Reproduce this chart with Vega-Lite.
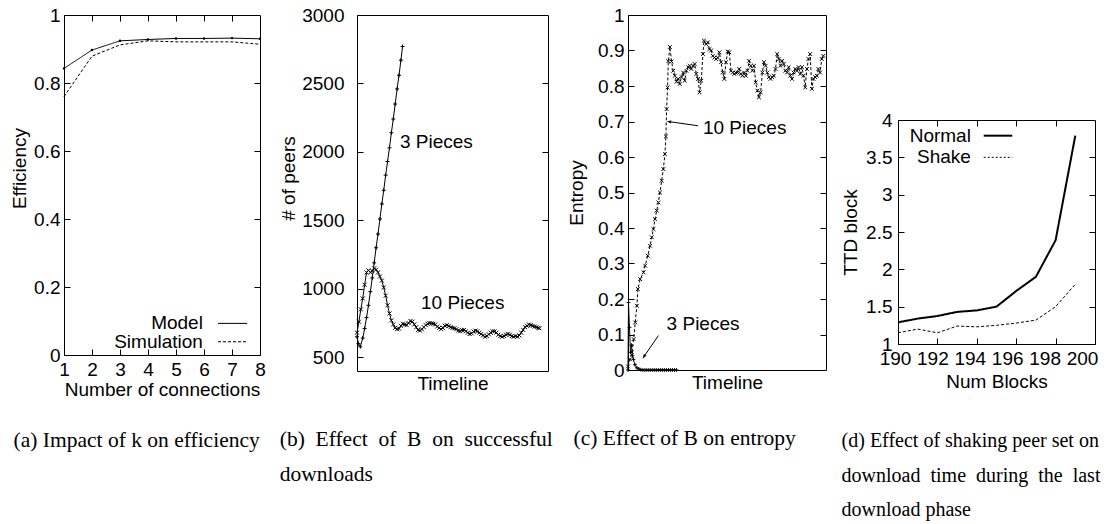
{
  "$schema": "https://vega.github.io/schema/vega-lite/v6.json",
  "background": "white",
  "padding": {"left": 10, "top": 5, "right": 5, "bottom": 5},
  "spacing": 13,
  "config": {
    "font": "Liberation Sans",
    "view": {"stroke": "black", "strokeWidth": 1},
    "axis": {"domain": false, "grid": false, "labelFont": "Liberation Sans", "labelFontSize": 19, "labelColor": "black", "titleFont": "Liberation Sans", "titleFontSize": 19, "titleFontWeight": "normal", "titleColor": "black", "tickColor": "black", "tickSize": -6, "tickWidth": 1, "labelPadding": 10, "labelOverlap": false, "labelFlush": false, "titlePadding": 2},
    "axisX": {"labelPadding": 11},
    "title": {"font": "Liberation Serif", "fontSize": 21.5, "fontWeight": "normal", "color": "black", "orient": "bottom", "anchor": "start", "frame": "bounds", "lineHeight": 34.5},
    "text": {"font": "Liberation Sans", "fontSize": 19, "color": "black"}
  },
  "datasets": {
    "eff": [
      {"series": "Model", "k": 1, "efficiency": 0.843},
      {"series": "Model", "k": 2, "efficiency": 0.897},
      {"series": "Model", "k": 3, "efficiency": 0.924},
      {"series": "Model", "k": 4, "efficiency": 0.928},
      {"series": "Model", "k": 5, "efficiency": 0.931},
      {"series": "Model", "k": 6, "efficiency": 0.931},
      {"series": "Model", "k": 7, "efficiency": 0.932},
      {"series": "Model", "k": 8, "efficiency": 0.930},
      {"series": "Simulation", "k": 1, "efficiency": 0.760},
      {"series": "Simulation", "k": 2, "efficiency": 0.879},
      {"series": "Simulation", "k": 3, "efficiency": 0.912},
      {"series": "Simulation", "k": 4, "efficiency": 0.924},
      {"series": "Simulation", "k": 5, "efficiency": 0.921},
      {"series": "Simulation", "k": 6, "efficiency": 0.921},
      {"series": "Simulation", "k": 7, "efficiency": 0.921},
      {"series": "Simulation", "k": 8, "efficiency": 0.914}
    ],
    "peers": [
      {"series": "3 Pieces", "t": 0, "peers": 650},
      {"series": "3 Pieces", "t": 1.5, "peers": 600},
      {"series": "3 Pieces", "t": 3.5, "peers": 577},
      {"series": "3 Pieces", "t": 6, "peers": 640},
      {"series": "3 Pieces", "t": 8, "peers": 710},
      {"series": "3 Pieces", "t": 10, "peers": 790},
      {"series": "3 Pieces", "t": 12, "peers": 880},
      {"series": "3 Pieces", "t": 14, "peers": 980},
      {"series": "3 Pieces", "t": 16, "peers": 1080},
      {"series": "3 Pieces", "t": 18, "peers": 1190},
      {"series": "3 Pieces", "t": 20, "peers": 1300},
      {"series": "3 Pieces", "t": 22, "peers": 1400},
      {"series": "3 Pieces", "t": 24, "peers": 1510},
      {"series": "3 Pieces", "t": 26, "peers": 1620},
      {"series": "3 Pieces", "t": 28, "peers": 1720},
      {"series": "3 Pieces", "t": 30, "peers": 1830},
      {"series": "3 Pieces", "t": 32, "peers": 1930},
      {"series": "3 Pieces", "t": 34, "peers": 2030},
      {"series": "3 Pieces", "t": 36, "peers": 2140},
      {"series": "3 Pieces", "t": 38, "peers": 2240},
      {"series": "3 Pieces", "t": 40, "peers": 2350},
      {"series": "3 Pieces", "t": 42, "peers": 2460},
      {"series": "3 Pieces", "t": 44, "peers": 2560},
      {"series": "3 Pieces", "t": 46, "peers": 2670},
      {"series": "3 Pieces", "t": 47.7, "peers": 2770},
      {"series": "10 Pieces", "t": 0, "peers": 680},
      {"series": "10 Pieces", "t": 2, "peers": 760},
      {"series": "10 Pieces", "t": 4, "peers": 850},
      {"series": "10 Pieces", "t": 6, "peers": 930},
      {"series": "10 Pieces", "t": 8, "peers": 1030},
      {"series": "10 Pieces", "t": 10, "peers": 1120},
      {"series": "10 Pieces", "t": 12, "peers": 1135},
      {"series": "10 Pieces", "t": 14, "peers": 1120},
      {"series": "10 Pieces", "t": 16, "peers": 1130},
      {"series": "10 Pieces", "t": 18, "peers": 1150},
      {"series": "10 Pieces", "t": 20, "peers": 1140},
      {"series": "10 Pieces", "t": 22, "peers": 1120},
      {"series": "10 Pieces", "t": 24, "peers": 1090},
      {"series": "10 Pieces", "t": 26, "peers": 1060},
      {"series": "10 Pieces", "t": 28, "peers": 1010},
      {"series": "10 Pieces", "t": 30, "peers": 950},
      {"series": "10 Pieces", "t": 32, "peers": 880},
      {"series": "10 Pieces", "t": 34, "peers": 820},
      {"series": "10 Pieces", "t": 36, "peers": 770},
      {"series": "10 Pieces", "t": 38, "peers": 740},
      {"series": "10 Pieces", "t": 40, "peers": 715},
      {"series": "10 Pieces", "t": 42, "peers": 705},
      {"series": "10 Pieces", "t": 44, "peers": 710},
      {"series": "10 Pieces", "t": 46, "peers": 730},
      {"series": "10 Pieces", "t": 48, "peers": 745},
      {"series": "10 Pieces", "t": 50, "peers": 740},
      {"series": "10 Pieces", "t": 52, "peers": 735},
      {"series": "10 Pieces", "t": 54, "peers": 750},
      {"series": "10 Pieces", "t": 56, "peers": 765},
      {"series": "10 Pieces", "t": 58, "peers": 760},
      {"series": "10 Pieces", "t": 60, "peers": 740},
      {"series": "10 Pieces", "t": 62, "peers": 720},
      {"series": "10 Pieces", "t": 64, "peers": 700},
      {"series": "10 Pieces", "t": 66, "peers": 695},
      {"series": "10 Pieces", "t": 68, "peers": 705},
      {"series": "10 Pieces", "t": 70, "peers": 720},
      {"series": "10 Pieces", "t": 72, "peers": 735},
      {"series": "10 Pieces", "t": 74, "peers": 745},
      {"series": "10 Pieces", "t": 76, "peers": 750},
      {"series": "10 Pieces", "t": 78, "peers": 748},
      {"series": "10 Pieces", "t": 80, "peers": 745},
      {"series": "10 Pieces", "t": 82, "peers": 740},
      {"series": "10 Pieces", "t": 84, "peers": 725},
      {"series": "10 Pieces", "t": 86, "peers": 715},
      {"series": "10 Pieces", "t": 88, "peers": 705},
      {"series": "10 Pieces", "t": 90, "peers": 715},
      {"series": "10 Pieces", "t": 92, "peers": 730},
      {"series": "10 Pieces", "t": 94, "peers": 735},
      {"series": "10 Pieces", "t": 96, "peers": 728},
      {"series": "10 Pieces", "t": 98, "peers": 720},
      {"series": "10 Pieces", "t": 100, "peers": 715},
      {"series": "10 Pieces", "t": 102, "peers": 712},
      {"series": "10 Pieces", "t": 104, "peers": 705},
      {"series": "10 Pieces", "t": 106, "peers": 695},
      {"series": "10 Pieces", "t": 108, "peers": 690},
      {"series": "10 Pieces", "t": 110, "peers": 698},
      {"series": "10 Pieces", "t": 112, "peers": 700},
      {"series": "10 Pieces", "t": 114, "peers": 690},
      {"series": "10 Pieces", "t": 116, "peers": 680},
      {"series": "10 Pieces", "t": 118, "peers": 670},
      {"series": "10 Pieces", "t": 120, "peers": 675},
      {"series": "10 Pieces", "t": 122, "peers": 688},
      {"series": "10 Pieces", "t": 124, "peers": 695},
      {"series": "10 Pieces", "t": 126, "peers": 690},
      {"series": "10 Pieces", "t": 128, "peers": 680},
      {"series": "10 Pieces", "t": 130, "peers": 670},
      {"series": "10 Pieces", "t": 132, "peers": 660},
      {"series": "10 Pieces", "t": 134, "peers": 650},
      {"series": "10 Pieces", "t": 136, "peers": 655},
      {"series": "10 Pieces", "t": 138, "peers": 668},
      {"series": "10 Pieces", "t": 140, "peers": 680},
      {"series": "10 Pieces", "t": 142, "peers": 690},
      {"series": "10 Pieces", "t": 144, "peers": 690},
      {"series": "10 Pieces", "t": 146, "peers": 680},
      {"series": "10 Pieces", "t": 148, "peers": 665},
      {"series": "10 Pieces", "t": 150, "peers": 655},
      {"series": "10 Pieces", "t": 152, "peers": 650},
      {"series": "10 Pieces", "t": 154, "peers": 655},
      {"series": "10 Pieces", "t": 156, "peers": 665},
      {"series": "10 Pieces", "t": 158, "peers": 672},
      {"series": "10 Pieces", "t": 160, "peers": 665},
      {"series": "10 Pieces", "t": 162, "peers": 655},
      {"series": "10 Pieces", "t": 164, "peers": 650},
      {"series": "10 Pieces", "t": 166, "peers": 655},
      {"series": "10 Pieces", "t": 168, "peers": 650},
      {"series": "10 Pieces", "t": 170, "peers": 660},
      {"series": "10 Pieces", "t": 172, "peers": 680},
      {"series": "10 Pieces", "t": 174, "peers": 700},
      {"series": "10 Pieces", "t": 176, "peers": 720},
      {"series": "10 Pieces", "t": 178, "peers": 730},
      {"series": "10 Pieces", "t": 180, "peers": 740},
      {"series": "10 Pieces", "t": 182, "peers": 735},
      {"series": "10 Pieces", "t": 184, "peers": 730},
      {"series": "10 Pieces", "t": 186, "peers": 725},
      {"series": "10 Pieces", "t": 188, "peers": 720},
      {"series": "10 Pieces", "t": 190, "peers": 715},
      {"series": "10 Pieces", "t": 191, "peers": 712}
    ],
    "entropy": [
      {"series": "3 Pieces", "t": 0, "entropy": 0.0},
      {"series": "3 Pieces", "t": 0.5, "entropy": 0.19},
      {"series": "3 Pieces", "t": 1.5, "entropy": 0.12},
      {"series": "3 Pieces", "t": 2.5, "entropy": 0.05},
      {"series": "3 Pieces", "t": 3.5, "entropy": 0.07},
      {"series": "3 Pieces", "t": 4.5, "entropy": 0.04},
      {"series": "3 Pieces", "t": 5.5, "entropy": 0.03},
      {"series": "3 Pieces", "t": 7, "entropy": 0.015},
      {"series": "3 Pieces", "t": 9, "entropy": 0.006},
      {"series": "3 Pieces", "t": 11, "entropy": 0.003},
      {"series": "3 Pieces", "t": 13, "entropy": 0.001},
      {"series": "3 Pieces", "t": 15, "entropy": 0},
      {"series": "3 Pieces", "t": 17, "entropy": 0},
      {"series": "3 Pieces", "t": 19, "entropy": 0},
      {"series": "3 Pieces", "t": 21, "entropy": 0},
      {"series": "3 Pieces", "t": 23, "entropy": 0},
      {"series": "3 Pieces", "t": 25, "entropy": 0},
      {"series": "3 Pieces", "t": 27, "entropy": 0},
      {"series": "3 Pieces", "t": 29, "entropy": 0},
      {"series": "3 Pieces", "t": 31, "entropy": 0},
      {"series": "3 Pieces", "t": 33, "entropy": 0},
      {"series": "3 Pieces", "t": 35, "entropy": 0},
      {"series": "3 Pieces", "t": 37, "entropy": 0},
      {"series": "3 Pieces", "t": 39, "entropy": 0},
      {"series": "3 Pieces", "t": 41, "entropy": 0},
      {"series": "3 Pieces", "t": 43, "entropy": 0},
      {"series": "3 Pieces", "t": 45, "entropy": 0},
      {"series": "3 Pieces", "t": 47, "entropy": 0},
      {"series": "3 Pieces", "t": 49, "entropy": 0},
      {"series": "10 Pieces", "t": 0, "entropy": 0.01},
      {"series": "10 Pieces", "t": 2, "entropy": 0.03},
      {"series": "10 Pieces", "t": 4, "entropy": 0.05},
      {"series": "10 Pieces", "t": 5.7, "entropy": 0.087},
      {"series": "10 Pieces", "t": 7.3, "entropy": 0.134},
      {"series": "10 Pieces", "t": 9, "entropy": 0.181},
      {"series": "10 Pieces", "t": 10, "entropy": 0.228},
      {"series": "10 Pieces", "t": 12.3, "entropy": 0.256},
      {"series": "10 Pieces", "t": 15.7, "entropy": 0.275},
      {"series": "10 Pieces", "t": 17.3, "entropy": 0.294},
      {"series": "10 Pieces", "t": 20, "entropy": 0.322},
      {"series": "10 Pieces", "t": 22.3, "entropy": 0.35},
      {"series": "10 Pieces", "t": 24, "entropy": 0.374},
      {"series": "10 Pieces", "t": 25.7, "entropy": 0.397},
      {"series": "10 Pieces", "t": 27.3, "entropy": 0.425},
      {"series": "10 Pieces", "t": 29, "entropy": 0.449},
      {"series": "10 Pieces", "t": 30.7, "entropy": 0.472},
      {"series": "10 Pieces", "t": 32.3, "entropy": 0.5},
      {"series": "10 Pieces", "t": 34, "entropy": 0.533},
      {"series": "10 Pieces", "t": 35.7, "entropy": 0.566},
      {"series": "10 Pieces", "t": 37.3, "entropy": 0.608},
      {"series": "10 Pieces", "t": 38.3, "entropy": 0.658},
      {"series": "10 Pieces", "t": 39, "entropy": 0.735},
      {"series": "10 Pieces", "t": 40, "entropy": 0.796},
      {"series": "10 Pieces", "t": 40.7, "entropy": 0.87},
      {"series": "10 Pieces", "t": 42.3, "entropy": 0.91},
      {"series": "10 Pieces", "t": 44, "entropy": 0.869},
      {"series": "10 Pieces", "t": 45.7, "entropy": 0.843},
      {"series": "10 Pieces", "t": 47.3, "entropy": 0.829},
      {"series": "10 Pieces", "t": 49, "entropy": 0.812},
      {"series": "10 Pieces", "t": 50.7, "entropy": 0.82},
      {"series": "10 Pieces", "t": 52.3, "entropy": 0.806},
      {"series": "10 Pieces", "t": 54, "entropy": 0.825},
      {"series": "10 Pieces", "t": 55.7, "entropy": 0.838},
      {"series": "10 Pieces", "t": 57.3, "entropy": 0.815},
      {"series": "10 Pieces", "t": 59, "entropy": 0.843},
      {"series": "10 Pieces", "t": 60.7, "entropy": 0.853},
      {"series": "10 Pieces", "t": 62.3, "entropy": 0.857},
      {"series": "10 Pieces", "t": 64, "entropy": 0.848},
      {"series": "10 Pieces", "t": 65.7, "entropy": 0.857},
      {"series": "10 Pieces", "t": 67.3, "entropy": 0.862},
      {"series": "10 Pieces", "t": 69, "entropy": 0.834},
      {"series": "10 Pieces", "t": 70.7, "entropy": 0.82},
      {"series": "10 Pieces", "t": 72.3, "entropy": 0.782},
      {"series": "10 Pieces", "t": 74, "entropy": 0.815},
      {"series": "10 Pieces", "t": 75.7, "entropy": 0.89},
      {"series": "10 Pieces", "t": 76.7, "entropy": 0.928},
      {"series": "10 Pieces", "t": 79, "entropy": 0.918},
      {"series": "10 Pieces", "t": 80.7, "entropy": 0.923},
      {"series": "10 Pieces", "t": 82.3, "entropy": 0.904},
      {"series": "10 Pieces", "t": 84, "entropy": 0.9},
      {"series": "10 Pieces", "t": 85.7, "entropy": 0.885},
      {"series": "10 Pieces", "t": 87.3, "entropy": 0.88},
      {"series": "10 Pieces", "t": 89, "entropy": 0.876},
      {"series": "10 Pieces", "t": 90.7, "entropy": 0.88},
      {"series": "10 Pieces", "t": 92.3, "entropy": 0.895},
      {"series": "10 Pieces", "t": 94, "entropy": 0.867},
      {"series": "10 Pieces", "t": 95.7, "entropy": 0.838},
      {"series": "10 Pieces", "t": 97.3, "entropy": 0.82},
      {"series": "10 Pieces", "t": 99, "entropy": 0.867},
      {"series": "10 Pieces", "t": 100.7, "entropy": 0.897},
      {"series": "10 Pieces", "t": 102.3, "entropy": 0.895},
      {"series": "10 Pieces", "t": 104, "entropy": 0.843},
      {"series": "10 Pieces", "t": 105.7, "entropy": 0.838},
      {"series": "10 Pieces", "t": 107.3, "entropy": 0.834},
      {"series": "10 Pieces", "t": 109, "entropy": 0.837},
      {"series": "10 Pieces", "t": 110.7, "entropy": 0.838},
      {"series": "10 Pieces", "t": 112.3, "entropy": 0.848},
      {"series": "10 Pieces", "t": 114, "entropy": 0.834},
      {"series": "10 Pieces", "t": 115.7, "entropy": 0.829},
      {"series": "10 Pieces", "t": 117.3, "entropy": 0.838},
      {"series": "10 Pieces", "t": 119, "entropy": 0.829},
      {"series": "10 Pieces", "t": 120.7, "entropy": 0.843},
      {"series": "10 Pieces", "t": 122.3, "entropy": 0.871},
      {"series": "10 Pieces", "t": 124, "entropy": 0.857},
      {"series": "10 Pieces", "t": 125.7, "entropy": 0.843},
      {"series": "10 Pieces", "t": 127.3, "entropy": 0.857},
      {"series": "10 Pieces", "t": 129, "entropy": 0.81},
      {"series": "10 Pieces", "t": 130.7, "entropy": 0.787},
      {"series": "10 Pieces", "t": 132.3, "entropy": 0.768},
      {"series": "10 Pieces", "t": 134, "entropy": 0.782},
      {"series": "10 Pieces", "t": 135.7, "entropy": 0.838},
      {"series": "10 Pieces", "t": 137.3, "entropy": 0.867},
      {"series": "10 Pieces", "t": 139, "entropy": 0.857},
      {"series": "10 Pieces", "t": 140.7, "entropy": 0.838},
      {"series": "10 Pieces", "t": 142.3, "entropy": 0.825},
      {"series": "10 Pieces", "t": 144, "entropy": 0.82},
      {"series": "10 Pieces", "t": 145.7, "entropy": 0.825},
      {"series": "10 Pieces", "t": 147.3, "entropy": 0.829},
      {"series": "10 Pieces", "t": 149, "entropy": 0.848},
      {"series": "10 Pieces", "t": 150.7, "entropy": 0.89},
      {"series": "10 Pieces", "t": 152.3, "entropy": 0.876},
      {"series": "10 Pieces", "t": 154, "entropy": 0.857},
      {"series": "10 Pieces", "t": 155.7, "entropy": 0.871},
      {"series": "10 Pieces", "t": 157.3, "entropy": 0.862},
      {"series": "10 Pieces", "t": 159, "entropy": 0.843},
      {"series": "10 Pieces", "t": 160.7, "entropy": 0.838},
      {"series": "10 Pieces", "t": 162.3, "entropy": 0.853},
      {"series": "10 Pieces", "t": 164, "entropy": 0.829},
      {"series": "10 Pieces", "t": 165.7, "entropy": 0.82},
      {"series": "10 Pieces", "t": 167.3, "entropy": 0.838},
      {"series": "10 Pieces", "t": 169, "entropy": 0.848},
      {"series": "10 Pieces", "t": 170.7, "entropy": 0.843},
      {"series": "10 Pieces", "t": 172.3, "entropy": 0.853},
      {"series": "10 Pieces", "t": 174, "entropy": 0.834},
      {"series": "10 Pieces", "t": 175.7, "entropy": 0.853},
      {"series": "10 Pieces", "t": 177.3, "entropy": 0.829},
      {"series": "10 Pieces", "t": 179, "entropy": 0.796},
      {"series": "10 Pieces", "t": 180.7, "entropy": 0.848},
      {"series": "10 Pieces", "t": 182.3, "entropy": 0.876},
      {"series": "10 Pieces", "t": 184, "entropy": 0.89},
      {"series": "10 Pieces", "t": 185.7, "entropy": 0.792},
      {"series": "10 Pieces", "t": 187.3, "entropy": 0.82},
      {"series": "10 Pieces", "t": 189, "entropy": 0.825},
      {"series": "10 Pieces", "t": 190.7, "entropy": 0.829},
      {"series": "10 Pieces", "t": 192.3, "entropy": 0.848},
      {"series": "10 Pieces", "t": 194, "entropy": 0.838},
      {"series": "10 Pieces", "t": 195.7, "entropy": 0.876},
      {"series": "10 Pieces", "t": 197.3, "entropy": 0.885}
    ],
    "ttd": [
      {"series": "Normal", "blocks": 190, "ttd": 1.29},
      {"series": "Normal", "blocks": 191, "ttd": 1.34},
      {"series": "Normal", "blocks": 192, "ttd": 1.375},
      {"series": "Normal", "blocks": 193, "ttd": 1.43},
      {"series": "Normal", "blocks": 194, "ttd": 1.45},
      {"series": "Normal", "blocks": 195, "ttd": 1.5},
      {"series": "Normal", "blocks": 196, "ttd": 1.71},
      {"series": "Normal", "blocks": 197, "ttd": 1.9},
      {"series": "Normal", "blocks": 198, "ttd": 2.39},
      {"series": "Normal", "blocks": 199, "ttd": 3.79},
      {"series": "Shake", "blocks": 190, "ttd": 1.15},
      {"series": "Shake", "blocks": 191, "ttd": 1.2},
      {"series": "Shake", "blocks": 192, "ttd": 1.15},
      {"series": "Shake", "blocks": 193, "ttd": 1.24},
      {"series": "Shake", "blocks": 194, "ttd": 1.23},
      {"series": "Shake", "blocks": 195, "ttd": 1.25},
      {"series": "Shake", "blocks": 196, "ttd": 1.28},
      {"series": "Shake", "blocks": 197, "ttd": 1.32},
      {"series": "Shake", "blocks": 198, "ttd": 1.5},
      {"series": "Shake", "blocks": 199, "ttd": 1.8}
    ]
  },
  "hconcat": [
    {
      "width": 196, "height": 340,
      "title": {"text": "(a) Impact of k on efficiency", "offset": 31, "dx": 3},
      "resolve": {"axis": {"x": "independent", "y": "independent"}},
      "layer": [
        {
          "data": {"name": "eff"},
          "mark": {"type": "line", "color": "black", "strokeWidth": 1},
          "encoding": {
            "x": {"field": "k", "type": "quantitative", "scale": {"domain": [1, 8]}, "axis": {"title": "Number of connections", "values": [1, 2, 3, 4, 5, 6, 7, 8], "labelOverlap": false, "titlePadding": 1}},
            "y": {"field": "efficiency", "type": "quantitative", "scale": {"domain": [0, 1]}, "axis": {"title": "Efficiency", "values": [0, 0.2, 0.4, 0.6, 0.8, 1], "format": "~g", "labelOverlap": false, "titlePadding": 4, "titleY": 153}},
            "strokeDash": {"field": "series", "type": "nominal", "scale": {"domain": ["Model", "Simulation"], "range": [[1, 0], [3, 2]]}, "legend": null}
          }
        },
        {
          "data": {"values": [{}]},
          "mark": {"type": "point", "opacity": 0},
          "encoding": {
            "x": {"datum": 1, "type": "quantitative", "axis": {"orient": "top", "labels": false, "title": null, "values": [2, 3, 4, 5, 6, 7]}},
            "y": {"datum": 0, "type": "quantitative", "axis": {"orient": "right", "labels": false, "title": null, "values": [0.2, 0.4, 0.6, 0.8]}}
          }
        },
        {
          "data": {"name": "eff"},
          "transform": [{"filter": "datum.series === 'Model'"}],
          "mark": {"type": "point", "filled": true, "color": "black", "size": 6, "opacity": 1},
          "encoding": {
            "x": {"field": "k", "type": "quantitative", "axis": null},
            "y": {"field": "efficiency", "type": "quantitative", "axis": null}
          }
        },
        {
          "data": {"values": [{}]},
          "mark": {"type": "text", "align": "right", "baseline": "middle"},
          "encoding": {"x": {"datum": 5.96, "type": "quantitative", "axis": null}, "y": {"datum": 0.093, "type": "quantitative", "axis": null}, "text": {"value": "Model"}}
        },
        {
          "data": {"values": [{}]},
          "mark": {"type": "text", "align": "right", "baseline": "middle"},
          "encoding": {"x": {"datum": 5.96, "type": "quantitative", "axis": null}, "y": {"datum": 0.039, "type": "quantitative", "axis": null}, "text": {"value": "Simulation"}}
        },
        {
          "data": {"values": [{}]},
          "mark": {"type": "rule", "color": "black", "strokeWidth": 1},
          "encoding": {"x": {"datum": 6.5, "type": "quantitative", "axis": null}, "x2": {"datum": 7.54}, "y": {"datum": 0.093, "type": "quantitative", "axis": null}}
        },
        {
          "data": {"values": [{}]},
          "mark": {"type": "rule", "color": "black", "strokeWidth": 1, "strokeDash": [3, 2]},
          "encoding": {"x": {"datum": 6.5, "type": "quantitative", "axis": null}, "x2": {"datum": 7.54}, "y": {"datum": 0.039, "type": "quantitative", "axis": null}}
        }
      ]
    },
    {
      "width": 191, "height": 356,
      "title": {"text": ["(b)\u00a0 Effect\u00a0 of\u00a0 B\u00a0 on\u00a0 successful", "downloads"], "offset": 36},
      "resolve": {"axis": {"y": "independent"}},
      "layer": [
        {
          "data": {"name": "peers"},
          "mark": {"type": "line", "color": "black", "strokeWidth": 1},
          "encoding": {
            "x": {"field": "t", "type": "quantitative", "scale": {"domain": [0, 191]}, "axis": {"title": "Timeline", "labels": false, "ticks": false, "titlePadding": 3}},
            "y": {"field": "peers", "type": "quantitative", "scale": {"domain": [500, 3000]}, "axis": {"title": "# of peers", "values": [500, 1000, 1500, 2000, 2500, 3000], "format": "d", "labelOverlap": false, "labelPadding": 19, "titlePadding": 3, "titleY": 163}},
            "detail": {"field": "series", "type": "nominal"}
          }
        },
        {
          "data": {"values": [{}]},
          "mark": {"type": "point", "opacity": 0},
          "encoding": {
            "y": {"datum": 500, "type": "quantitative", "axis": {"orient": "right", "labels": false, "title": null, "values": [1000, 1500, 2000, 2500]}}
          }
        },
        {
          "data": {"name": "peers"},
          "mark": {"type": "point", "filled": false, "color": "black", "size": 16, "strokeWidth": 1, "opacity": 1},
          "encoding": {
            "x": {"field": "t", "type": "quantitative"},
            "y": {"field": "peers", "type": "quantitative", "axis": null},
            "shape": {"field": "series", "type": "nominal", "scale": {"domain": ["3 Pieces", "10 Pieces"], "range": ["M-1,0L1,0M0,-1L0,1", "M-1,-1L1,1M-1,1L1,-1"]}, "legend": null}
          }
        },
        {
          "data": {"values": [{}]},
          "mark": {"type": "text", "align": "left", "baseline": "middle"},
          "encoding": {"x": {"datum": 45, "type": "quantitative"}, "y": {"datum": 2073, "type": "quantitative", "axis": null}, "text": {"value": "3 Pieces"}}
        },
        {
          "data": {"values": [{}]},
          "mark": {"type": "text", "align": "left", "baseline": "middle"},
          "encoding": {"x": {"datum": 67, "type": "quantitative"}, "y": {"datum": 893, "type": "quantitative", "axis": null}, "text": {"value": "10 Pieces"}}
        }
      ]
    },
    {
      "width": 198, "height": 355,
      "title": {"text": "(c) Effect of B on entropy", "offset": 36, "dx": 6},
      "resolve": {"axis": {"y": "independent"}},
      "layer": [
        {
          "data": {"name": "entropy"},
          "mark": {"type": "line", "color": "black", "strokeWidth": 1},
          "encoding": {
            "x": {"field": "t", "type": "quantitative", "scale": {"domain": [0, 198]}, "axis": {"title": "Timeline", "labels": false, "ticks": false, "titlePadding": 3}},
            "y": {"field": "entropy", "type": "quantitative", "scale": {"domain": [0, 1]}, "axis": {"title": "Entropy", "values": [0, 0.1, 0.2, 0.3, 0.4, 0.5, 0.6, 0.7, 0.8, 0.9, 1], "format": "~g", "labelOverlap": false, "titlePadding": 11}},
            "detail": {"field": "series", "type": "nominal"},
            "strokeDash": {"field": "series", "type": "nominal", "scale": {"domain": ["3 Pieces", "10 Pieces"], "range": [[1, 0], [2, 2]]}, "legend": null}
          }
        },
        {
          "data": {"values": [{}]},
          "mark": {"type": "point", "opacity": 0},
          "encoding": {
            "y": {"datum": 0, "type": "quantitative", "axis": {"orient": "right", "labels": false, "title": null, "values": [0.1, 0.2, 0.3, 0.4, 0.5, 0.6, 0.7, 0.8, 0.9]}}
          }
        },
        {
          "data": {"name": "entropy"},
          "mark": {"type": "point", "filled": false, "color": "black", "size": 14, "strokeWidth": 1, "opacity": 1},
          "encoding": {
            "x": {"field": "t", "type": "quantitative"},
            "y": {"field": "entropy", "type": "quantitative", "axis": null},
            "shape": {"field": "series", "type": "nominal", "scale": {"domain": ["3 Pieces", "10 Pieces"], "range": ["M-1,0L1,0M0,-1L0,1", "M-1,-1L1,1M-1,1L1,-1"]}, "legend": null}
          }
        },
        {
          "data": {"values": [{}]},
          "mark": {"type": "text", "align": "left", "baseline": "middle"},
          "encoding": {"x": {"datum": 75.7, "type": "quantitative"}, "y": {"datum": 0.681, "type": "quantitative", "axis": null}, "text": {"value": "10 Pieces"}}
        },
        {
          "data": {"values": [{}]},
          "mark": {"type": "text", "align": "left", "baseline": "middle"},
          "encoding": {"x": {"datum": 39, "type": "quantitative"}, "y": {"datum": 0.13, "type": "quantitative", "axis": null}, "text": {"value": "3 Pieces"}}
        },
        {
          "data": {"values": [{}]},
          "mark": {"type": "rule", "color": "black", "strokeWidth": 1},
          "encoding": {"x": {"datum": 70.7, "type": "quantitative"}, "x2": {"datum": 40.7}, "y": {"datum": 0.688, "type": "quantitative", "axis": null}, "y2": {"datum": 0.7}}
        },
        {
          "data": {"values": [{}]},
          "mark": {"type": "rule", "color": "black", "strokeWidth": 1},
          "encoding": {"x": {"datum": 30.7, "type": "quantitative"}, "x2": {"datum": 15.7}, "y": {"datum": 0.097, "type": "quantitative", "axis": null}, "y2": {"datum": 0.036}}
        },
        {
          "data": {"values": [{}]},
          "mark": {"type": "point", "shape": "M-0.7,2L0,0L0.7,2", "filled": false, "color": "black", "size": 9, "strokeWidth": 1, "opacity": 1, "angle": 278},
          "encoding": {"x": {"datum": 40.7, "type": "quantitative"}, "y": {"datum": 0.7, "type": "quantitative", "axis": null}}
        },
        {
          "data": {"values": [{}]},
          "mark": {"type": "point", "shape": "M-0.7,2L0,0L0.7,2", "filled": false, "color": "black", "size": 9, "strokeWidth": 1, "opacity": 1, "angle": 215},
          "encoding": {"x": {"datum": 15.7, "type": "quantitative"}, "y": {"datum": 0.036, "type": "quantitative", "axis": null}}
        }
      ]
    },
    {
      "spacing": 0,
      "vconcat": [
        {
          "width": 197, "height": 95,
          "view": {"stroke": null},
          "data": {"values": [{}]},
          "mark": {"type": "text", "text": ""}
        },
        {
          "width": 197, "height": 224,
          "title": {"text": ["(d) Effect of shaking peer set on", "download\u00a0 time\u00a0 during\u00a0 the\u00a0 last", "download phase"], "offset": 40, "fontSize": 20},
          "resolve": {"axis": {"x": "independent", "y": "independent"}},
          "layer": [
            {
              "data": {"name": "ttd"},
              "mark": {"type": "line", "color": "black"},
              "encoding": {
                "x": {"field": "blocks", "type": "quantitative", "scale": {"domain": [190, 200]}, "axis": {"title": "Num Blocks", "values": [190, 192, 194, 196, 198, 200], "labelOverlap": false, "titlePadding": 4, "labelOffset": {"condition": [{"test": "datum.value == 190", "value": -3}, {"test": "datum.value == 192", "value": -5}, {"test": "datum.value == 194", "value": -7}, {"test": "datum.value == 196", "value": -9}, {"test": "datum.value == 198", "value": -11}], "value": -13}}},
                "y": {"field": "ttd", "type": "quantitative", "scale": {"domain": [1, 4]}, "axis": {"title": "TTD block", "values": [1, 1.5, 2, 2.5, 3, 3.5, 4], "format": "~g", "labelOverlap": false, "labelPadding": 12, "titlePadding": 5}},
                "strokeDash": {"field": "series", "type": "nominal", "scale": {"domain": ["Normal", "Shake"], "range": [[1, 0], [2, 2]]}, "legend": null},
                "strokeWidth": {"field": "series", "type": "nominal", "scale": {"domain": ["Normal", "Shake"], "range": [2, 1]}, "legend": null}
              }
            },
            {
              "data": {"values": [{}]},
              "mark": {"type": "point", "opacity": 0},
              "encoding": {
                "x": {"datum": 190, "type": "quantitative", "axis": {"orient": "top", "labels": false, "title": null, "values": [192, 194, 196, 198]}},
                "y": {"datum": 1, "type": "quantitative", "axis": {"orient": "right", "labels": false, "title": null, "values": [1.5, 2, 2.5, 3, 3.5]}}
              }
            },
            {
              "data": {"values": [{}]},
              "mark": {"type": "text", "align": "right", "baseline": "middle"},
              "encoding": {"x": {"datum": 193.7, "type": "quantitative", "axis": null}, "y": {"datum": 3.79, "type": "quantitative", "axis": null}, "text": {"value": "Normal"}}
            },
            {
              "data": {"values": [{}]},
              "mark": {"type": "text", "align": "right", "baseline": "middle"},
              "encoding": {"x": {"datum": 193.7, "type": "quantitative", "axis": null}, "y": {"datum": 3.5, "type": "quantitative", "axis": null}, "text": {"value": "Shake"}}
            },
            {
              "data": {"values": [{}]},
              "mark": {"type": "rule", "color": "black", "strokeWidth": 2},
              "encoding": {"x": {"datum": 194.35, "type": "quantitative", "axis": null}, "x2": {"datum": 195.8}, "y": {"datum": 3.79, "type": "quantitative", "axis": null}}
            },
            {
              "data": {"values": [{}]},
              "mark": {"type": "rule", "color": "black", "strokeWidth": 1, "strokeDash": [2, 2]},
              "encoding": {"x": {"datum": 194.35, "type": "quantitative", "axis": null}, "x2": {"datum": 195.8}, "y": {"datum": 3.5, "type": "quantitative", "axis": null}}
            }
          ]
        }
      ]
    }
  ]
}
